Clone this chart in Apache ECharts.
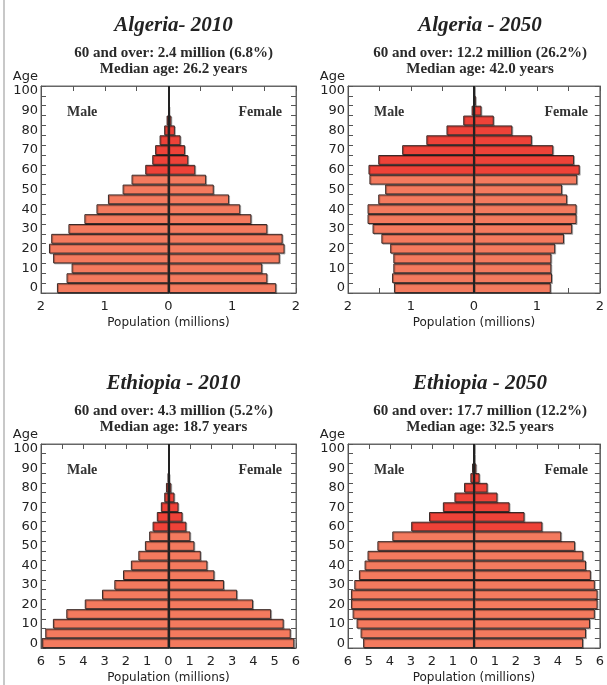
<!DOCTYPE html>
<html>
<head>
<meta charset="utf-8">
<script src="https://cdn.jsdelivr.net/npm/echarts@6/dist/echarts.min.js"></script>
<style>
html,body{margin:0;padding:0;background:#fff;}
#main{width:607px;height:685px;}
</style>
</head>
<body>
<div id="main"></div>
<script>
// 年龄组 0-4 ... 100+
var ages = ['0','5','10','15','20','25','30','35','40','45','50','55','60','65','70','75','80','85','90','95','100'];

var titles = ['Algeria- 2010', 'Algeria - 2050', 'Ethiopia - 2010', 'Ethiopia - 2050'];
var subtitles = [
	'60 and over: 2.4 million (6.8%)\nMedian age: 26.2 years',
	'60 and over: 12.2 million (26.2%)\nMedian age: 42.0 years',
	'60 and over: 4.3 million (5.2%)\nMedian age: 18.7 years',
	'60 and over: 17.7 million (12.2%)\nMedian age: 32.5 years'
];

var algeria2010Male   = [1.75,1.60,1.52,1.81,1.875,1.84,1.57,1.32,1.13,0.95,0.72,0.58,0.365,0.255,0.21,0.14,0.068,0.03,0,0,0];
var algeria2010Female = [1.69,1.55,1.47,1.745,1.82,1.79,1.55,1.30,1.125,0.95,0.71,0.59,0.42,0.31,0.26,0.19,0.10,0.045,0.01,0,0];
var algeria2050Male   = [1.27,1.30,1.28,1.28,1.33,1.47,1.61,1.69,1.69,1.52,1.41,1.66,1.675,1.52,1.14,0.756,0.436,0.17,0.037,0.01,0];
var algeria2050Female = [1.22,1.24,1.23,1.23,1.29,1.43,1.56,1.63,1.63,1.48,1.40,1.64,1.68,1.59,1.26,0.92,0.61,0.315,0.12,0.03,0];
var ethiopia2010Male   = [5.96,5.80,5.44,4.81,3.94,3.13,2.55,2.14,1.77,1.42,1.11,0.91,0.75,0.55,0.36,0.20,0.12,0.03,0,0,0];
var ethiopia2010Female = [5.92,5.75,5.42,4.83,3.98,3.23,2.61,2.16,1.83,1.52,1.22,1.03,0.84,0.66,0.47,0.28,0.13,0.04,0,0,0];
var ethiopia2050Male   = [5.28,5.40,5.59,5.78,5.86,5.86,5.70,5.48,5.21,5.07,4.60,3.89,2.99,2.14,1.48,0.93,0.47,0.17,0.09,0.02,0];
var ethiopia2050Female = [5.20,5.34,5.53,5.76,5.89,5.89,5.76,5.57,5.34,5.21,4.82,4.16,3.26,2.41,1.70,1.12,0.65,0.27,0.11,0.03,0];

var axisMax = [2, 2, 6, 6];
var axisStep = [0.5, 0.5, 1, 1];

var panels = [
	{male: algeria2010Male, female: algeria2010Female},
	{male: algeria2050Male, female: algeria2050Female},
	{male: ethiopia2010Male, female: ethiopia2010Female},
	{male: ethiopia2050Male, female: ethiopia2050Female}
];

// 每个小图的位置
var grids = [
	{left: 41, top: 86, width: 255, height: 207},
	{left: 348, top: 86, width: 254, height: 207},
	{left: 41, top: 444, width: 255, height: 208},
	{left: 348, top: 444, width: 254, height: 208}
];

var OLD_COLOR = '#ee4238';
var YOUNG_COLOR = '#f47a5e';
var SANS = 'DejaVu Sans';
var SERIF = 'Liberation Serif';

function barColor(p) {
	return p.dataIndex >= 12 ? OLD_COLOR : YOUNG_COLOR;
}

function makeOption() {
	var option = {
		animation: false,
		title: [],
		grid: [],
		xAxis: [],
		yAxis: [],
		series: [],
		graphic: [
			{type: 'rect', shape: {x: 3, y: 0, width: 2, height: 685}, style: {fill: '#c8c8c8'}, silent: true}
		]
	};
	for (var i = 0; i < 4; i++) {
		var g = grids[i];
		var cx = g.left + g.width / 2;
		var max = axisMax[i];
		var step = axisStep[i];
		option.grid.push({left: g.left, top: g.top, width: g.width, height: g.height,
			show: true, borderColor: '#666', borderWidth: 1, backgroundColor: '#fff'});
		option.title.push({
			text: titles[i],
			subtext: subtitles[i],
			left: cx, top: g.top - 76, textAlign: 'center',
			itemGap: 9,
			textStyle: {fontFamily: SERIF, fontStyle: 'italic', fontWeight: 'bold', fontSize: 21, color: '#222'},
			subtextStyle: {fontFamily: SERIF, fontWeight: 'bold', fontSize: 15, color: '#2a2a2a', lineHeight: 16}
		});
		// 下方x轴
		option.xAxis.push({
			type: 'value', gridIndex: i, position: 'bottom',
			min: -max, max: max, interval: step,
			name: 'Population (millions)', nameLocation: 'middle', nameGap: 24,
			nameTextStyle: {fontFamily: SANS, fontSize: 12, color: '#222'},
			axisLine: {show: true, lineStyle: {color: '#666'}},
			axisTick: {show: true, inside: true, length: 5, lineStyle: {color: '#555'}},
			axisLabel: {fontFamily: SANS, fontSize: 13, color: '#222', margin: 7,
				formatter: function (v) { return v % 1 === 0 ? Math.abs(v) : ''; }},
			splitLine: {show: false}
		});
		// 上方x轴（只有刻度）
		option.xAxis.push({
			type: 'value', gridIndex: i, position: 'top',
			min: -max, max: max, interval: step,
			axisLine: {show: true, lineStyle: {color: '#666'}},
			axisTick: {show: true, inside: true, length: 5, lineStyle: {color: '#555'}},
			axisLabel: {show: false},
			splitLine: {show: false}
		});
		option.yAxis.push({
			type: 'category', gridIndex: i, position: 'left', data: ages,
			name: 'Age', nameLocation: 'end', nameGap: 3,
			nameTextStyle: {fontFamily: SANS, fontSize: 13, color: '#222', align: 'right', padding: [0, 3, 0, 0]},
			axisLine: {show: true, onZero: false, lineStyle: {color: '#555'}},
			axisTick: {show: true, inside: true, length: 5, interval: 0, lineStyle: {color: '#555'}},
			axisLabel: {interval: 1, fontFamily: SANS, fontSize: 13, color: '#222', margin: 3}
		});
		option.yAxis.push({
			type: 'category', gridIndex: i, position: 'right', data: ages,
			axisLine: {show: true, onZero: false, lineStyle: {color: '#666'}},
			axisTick: {show: true, inside: true, length: 5, interval: 0, lineStyle: {color: '#555'}},
			axisLabel: {show: false}
		});
		var style = {color: barColor, borderColor: '#3a2a28', borderWidth: 1,
			shadowColor: 'rgba(0,0,0,0.25)', shadowOffsetX: 1, shadowOffsetY: 1};
		option.series.push({
			name: 'Male', type: 'bar', stack: 'p' + i,
			xAxisIndex: i * 2, yAxisIndex: i * 2,
			barCategoryGap: 0, barWidth: '100%',
			itemStyle: style,
			data: panels[i].male.map(function (v) { return -v; })
		});
		option.series.push({
			name: 'Female', type: 'bar', stack: 'p' + i,
			xAxisIndex: i * 2, yAxisIndex: i * 2,
			barCategoryGap: 0, barWidth: '100%',
			itemStyle: style,
			data: panels[i].female,
			markLine: {
				silent: true, symbol: 'none', label: {show: false},
				lineStyle: {color: '#222', width: 2, type: 'solid'},
				data: [{xAxis: 0}]
			}
		});
		// Male / Female 文字
		option.graphic.push({type: 'text', left: g.left + 26, top: g.top + 19,
			style: {text: 'Male', font: 'bold 14px "Liberation Serif"', fill: '#333'}});
		option.graphic.push({type: 'text', right: 607 - (g.left + g.width) + 14, top: g.top + 19,
			style: {text: 'Female', font: 'bold 14px "Liberation Serif"', fill: '#333'}});
	}
	return option;
}

var myChart = echarts.init(document.getElementById('main'));
myChart.setOption(makeOption());
</script>
</body>
</html>
